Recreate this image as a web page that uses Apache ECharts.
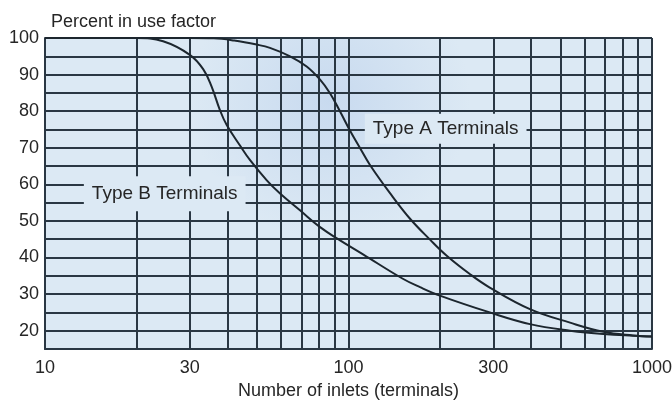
<!DOCTYPE html>
<html>
<head>
<meta charset="utf-8">
<script src="https://cdn.jsdelivr.net/npm/echarts@6/dist/echarts.min.js"></script>
<style>html,body{margin:0;padding:0;background:#fff}#c{width:672px;height:400px}</style>
</head>
<body>
<div id="c"></div>
<script>
// Data
const typeAX = [10, 20, 30, 36, 42, 49.8, 55.1, 64.2, 72.8, 80.6, 86.9, 93.8, 101, 109, 117.7, 137, 159.5, 185.6, 210.7, 251, 292, 396, 537, 691, 865, 1000];
const typeAY = [100, 100, 100, 99.9, 99.3, 98.2, 97.3, 95, 92.2, 88.6, 84.9, 79.9, 74.8, 70, 65.3, 57.6, 50.6, 44.9, 40.5, 35.5, 31.8, 25.9, 22.2, 19.7, 18.7, 18.4];
const typeBX = [10, 15, 20, 24.5, 30, 33.2, 35.4, 37.7, 39.7, 43.9, 47.4, 53.8, 59.5, 69.2, 80.6, 93.8, 112, 151, 172, 200, 292, 396, 537, 691, 1000];
const typeBY = [100, 100, 100, 99.1, 95.4, 91.5, 86.7, 80.3, 76.2, 70.6, 66.6, 61.1, 57.5, 52.9, 48.3, 44.7, 40.8, 34.2, 31.9, 29.6, 25, 21.8, 20, 19.1, 18.4];
const minorGridX = [20, 30, 40, 50, 60, 70, 80, 90, 200, 300, 400, 500, 600, 700, 800, 900];
const extraXLabels = [30, 300];
const yLabelValues = [20, 30, 40, 50, 60, 70, 80, 90, 100];
const labelA = { text: 'Type A Terminals', x: 209, y: 75.2 };
const labelB = { text: 'Type B Terminals', x: 24.8, y: 57.4 };

const gridColor = '#2a3743';
const curveColor = '#1c262e';
const bg = '#dce9f4';
const textColor = '#262626';
const font = 'Liberation Sans, Arial, sans-serif';

const chart = echarts.init(document.getElementById('c'), null, { renderer: 'canvas' });

const pairs = (xs, ys) => xs.map((x, i) => [x, ys[i]]);

chart.setOption({
  backgroundColor: '#fff',
  animation: false,
  title: {
    text: 'Percent in use factor',
    left: 46, top: 8,
    textStyle: { fontFamily: font, fontSize: 18, fontWeight: 'normal', color: textColor }
  },
  grid: {
    left: 45, right: 20, top: 38, bottom: 51,
    outerBoundsMode: 'none',
    containLabel: false,
    show: true,
    borderWidth: 0,
    backgroundColor: new echarts.graphic.RadialGradient(0.47, 0.2, 0.45, [
      { offset: 0, color: '#c8daef' },
      { offset: 1, color: bg }
    ])
  },
  xAxis: {
    type: 'log', logBase: 10, min: 10, max: 1000,
    name: 'Number of inlets (terminals)',
    nameLocation: 'middle', nameGap: 20,
    nameTextStyle: { fontFamily: font, fontSize: 18, color: textColor },
    axisLine: { show: true, lineStyle: { color: gridColor, width: 2 } },
    axisTick: { show: false },
    axisLabel: { fontFamily: font, fontSize: 18, color: textColor, margin: 10, formatter: v => String(v) },
    splitLine: { show: true, lineStyle: { color: gridColor, width: 2 } }
  },
  yAxis: {
    type: 'value', min: 15, max: 100, interval: 5,
    axisLine: { show: true, lineStyle: { color: gridColor, width: 2 } },
    axisTick: { show: false },
    axisLabel: {
      fontFamily: font, fontSize: 18, color: textColor, margin: 6,
      padding: [6, 0, 0, 0],
      formatter: v => yLabelValues.indexOf(v) >= 0 ? String(v) : ''
    },
    splitLine: { show: true, lineStyle: { color: gridColor, width: 1.8 } }
  },
  series: [
    {
      name: 'grid', type: 'line', data: [], z: 1, silent: true,
      markLine: {
        silent: true, symbol: 'none', animation: false,
        lineStyle: { color: gridColor, width: 2, type: 'solid' },
        emphasis: { disabled: true },
        label: {
          show: true, position: 'start', distance: 10,
          fontFamily: font, fontSize: 18, color: textColor,
          formatter: p => extraXLabels.indexOf(p.value) >= 0 ? String(p.value) : ''
        },
        data: minorGridX.map(v => ({ xAxis: v }))
      }
    },
    {
      name: 'Type A Terminals', type: 'line', z: 5,
      data: pairs(typeAX, typeAY),
      smooth: 0.4, showSymbol: false,
      lineStyle: { color: curveColor, width: 2 },
      markPoint: {
        silent: true, symbol: 'rect', symbolSize: 0,
        label: {
          show: true, position: 'inside', formatter: '{b}',
          fontFamily: font, fontSize: 19, color: textColor,
          backgroundColor: bg, padding: [6, 8, 5, 8]
        },
        data: [{ name: labelA.text, coord: [labelA.x, labelA.y] }]
      }
    },
    {
      name: 'Type B Terminals', type: 'line', z: 5,
      data: pairs(typeBX, typeBY),
      smooth: 0.4, showSymbol: false,
      lineStyle: { color: curveColor, width: 2 },
      markPoint: {
        silent: true, symbol: 'rect', symbolSize: 0,
        label: {
          show: true, position: 'inside', formatter: '{b}',
          fontFamily: font, fontSize: 19, color: textColor,
          backgroundColor: bg, padding: [8, 8, 8, 8]
        },
        data: [{ name: labelB.text, coord: [labelB.x, labelB.y] }]
      }
    }
  ]
});
</script>
</body>
</html>
